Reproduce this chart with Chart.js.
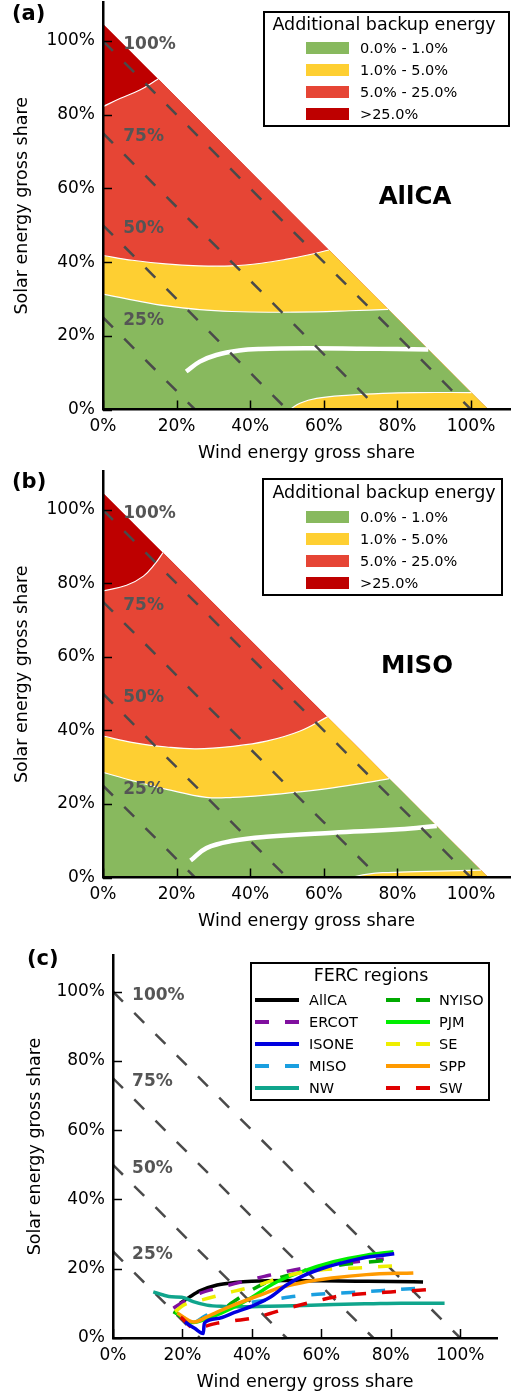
<!DOCTYPE html>
<html><head><meta charset="utf-8">
<script src="https://cdn.jsdelivr.net/npm/chart.js@4.4.1/dist/chart.umd.min.js"></script>
<style>
html,body{margin:0;padding:0;background:#fff;width:511px;height:1396px;overflow:hidden;}
canvas{position:absolute;left:0;display:block;}
</style></head><body>
<canvas id="ca" width="511" height="468" style="top:0;width:511px;height:468px"></canvas>
<canvas id="cb" width="511" height="468" style="top:468px;width:511px;height:468px"></canvas>
<canvas id="cc" width="511" height="460" style="top:936px;width:511px;height:460px"></canvas>
<script>
const F = 'DejaVu Sans';
const AXIS_MAX = 110.6;
const TICK_VALUES = [0, 20, 40, 60, 80, 100];
const TRI_EDGE = 104.7;
const DIAG_LEVELS = [25, 50, 75, 100];
const DIAG_TEXT = ['25%', '50%', '75%', '100%'];
const BAND_TEXT = ['0.0% - 1.0%', '1.0% - 5.0%', '5.0% - 25.0%', '>25.0%'];
const BAND_COLOR = ['#88b95e', '#fecf32', '#e64535', '#be0000'];

// Panel (a) AllCA: contour boundaries [wind %, solar %]
const A_DARKRED_EDGE = [[0,82.2],[4.6,84.4],[10,86.7],[15,89.7]];
const A_RED_EDGE = [[0,41.8],[8,40.5],[17,39.5],[26,39],[35,39],[43,39.7],[50,40.8],[56,42],[61.4,43.3]];
const A_YELLOW_EDGE = [[0,31.3],[8.2,29.7],[17.3,28.1],[26.3,27.1],[35,26.6],[45,26.4],[58,26.5],[67,26.8],[77.5,27.2]];
const A_LOWYELLOW_EDGE = [[50.8,0],[53.5,1.7],[58,3],[67,3.9],[76,4.4],[85,4.6],[100.1,4.6]];
const A_PATH = [[22.6,10.3],[26.3,13],[30.8,14.8],[37,16],[42.6,16.4],[55,16.6],[70,16.5],[80,16.4],[88.4,16.3]];

// Panel (b) MISO
const B_DARKRED_EDGE = [[0,78],[6.4,79.5],[11,82],[14.1,85.3],[16.3,88.4]];
const B_RED_EDGE = [[0,38.5],[8.2,36.7],[17.3,35.5],[25.4,35],[35.3,35.7],[44.4,37.1],[53.4,39.8],[61,43.7]];
const B_YELLOW_EDGE = [[0,28.6],[8.2,26.3],[17.3,24],[28.1,21.8],[35.3,21.8],[44.4,22.4],[53.4,23.3],[62.4,24.4],[71.5,25.8],[77.8,26.9]];
const B_LOWYELLOW_EDGE = [[67,0],[72,0.9],[76,1.3],[85,1.6],[102.7,2]];
const B_PATH = [[23.8,4.6],[28.1,8],[35.3,10],[44.4,11.1],[62.5,12.2],[80.6,13.1],[90.7,14]];

// Panel (c) FERC regions
const C_REGIONS = ['AllCA','ERCOT','ISONE','MISO','NW','NYISO','PJM','SE','SPP','SW'];
const C_COLORS = ['#000000','#80109f','#0000e0','#1a9fe0','#10a58c','#00aa00','#00ee00','#eeee00','#ff9a00','#e00000'];
const C_DASHED = [false,true,false,true,false,true,false,true,false,true];
const ALLCA_PTS = [[19.3,10],[22,11.8],[25,13.6],[30,15.3],[35,16],[40,16.4],[50,16.6],[60,16.5],[70,16.4],[80,16.3],[89.3,16.2]];
const ERCOT_PTS = [[17.4,8.6],[20.3,10.5],[25,12.9],[30,14.4],[35,15.7],[40,16.9],[45,18.1],[54,20],[62.5,21],[70,22],[78,22.8]];
const ISONE_PTS = [[20.7,4.6],[23.5,2.8],[26,1.3],[26.3,4.3],[30,5.6],[35,7.4],[40,9.2],[45,11.6],[50,15.3],[54,17.6],[60,20],[66,21.7],[73,23.3],[81,24.3]];
const MISO_PTS = [[23.8,4.6],[27,6.6],[30,7.8],[35,9.3],[40,10.3],[47,11.3],[55,12.3],[63.5,12.9],[73,13.4],[82,14],[90.5,14.5]];
const NW_PTS = [[11.6,13.3],[14.5,12.4],[16.9,11.9],[19.8,11.8],[23.1,10.5],[27,9.5],[32,9.1],[36,9],[45,9.2],[55,9.4],[63.5,9.7],[75,9.9],[83,10],[95.5,10]];
const NYISO_PTS = [[17.4,7.6],[22.2,5.2],[26,5.6],[30,7.2],[34.6,10.4],[38.5,13],[43,15.5],[47.2,17.2],[55,19.1],[63.5,20.8],[72,21.8],[80.8,22.6]];
const PJM_PTS = [[17.9,7.5],[23,4.5],[28,5.9],[34.7,8.8],[40.4,12],[46.2,15.7],[54,19],[63.5,22],[73,23.9],[80.8,24.9]];
const SE_PTS = [[17.9,7.6],[20.3,9.5],[25.6,11],[29,11.9],[34,13.3],[37,14],[42,15.3],[48,17.4],[55,19],[63,19.9],[72,20.3],[81.8,20.9]];
const SPP_PTS = [[18.5,7.2],[23.3,4.6],[27,6.1],[30,7.5],[34.7,9.5],[42.4,12.4],[48,14.5],[54,15.9],[63,17.3],[73,18.3],[86.5,18.8]];
const SW_PTS = [[19.5,6],[24,2.5],[27,3.5],[30,4.3],[35,5],[40,5.7],[45,7],[50,8.5],[55,9.8],[60,11],[65,12.1],[70,12.6],[80,13.3],[85,13.6],[91,14]];
const C_SERIES = [ALLCA_PTS, ERCOT_PTS, ISONE_PTS, MISO_PTS, NW_PTS, NYISO_PTS, PJM_PTS, SE_PTS, SPP_PTS, SW_PTS];

const toXY = arr => arr.map(p => ({x: p[0], y: p[1]}));
function hypTail(edge){
  const last = edge[edge.length-1];
  return [[last[0]+0.3, TRI_EDGE-last[0]-0.3],[TRI_EDGE,0]];
}
function layer(points, color, order){
  return {data: toXY(points), backgroundColor: color, borderColor: 'rgba(0,0,0,0)', borderWidth: 0,
    fill: 'origin', pointRadius: 0, tension: 0.4, order};
}
function smooth(points, color, width, order){
  return {data: toXY(points), borderColor: color, borderWidth: width, fill: false, pointRadius: 0,
    tension: 0.4, order, borderCapStyle: 'butt'};
}
function line(points, color, width, order, dash){
  return {data: toXY(points), borderColor: color, borderWidth: width, fill: false, pointRadius: 0,
    cubicInterpolationMode: 'monotone', order, borderDash: dash || [], borderCapStyle: 'butt'};
}
function diagSets(){
  return DIAG_LEVELS.map(k => ({data: [{x:0,y:k},{x:k,y:0}], borderColor: '#4a4a4a', borderWidth: 2.5,
    borderDash: [14,16], fill: false, pointRadius: 0, tension: 0, order: 5}));
}
function contourSets(dr, red, yel, low, path){
  return [
    layer([[0,TRI_EDGE],[TRI_EDGE,0]], BAND_COLOR[3], 100),
    layer(dr.concat(hypTail(dr)), BAND_COLOR[2], 99),
    layer(red.concat(hypTail(red)), BAND_COLOR[1], 98),
    layer(yel.concat(hypTail(yel)), BAND_COLOR[0], 97),
    layer(low.concat(hypTail(low)), BAND_COLOR[1], 96),
    smooth(dr, '#ffffff', 1.2, 20), smooth(red, '#ffffff', 1.2, 20), smooth(yel, '#ffffff', 1.2, 20), smooth(low, '#ffffff', 1.2, 20),
    smooth(path, '#ffffff', 4.5, 15)
  ].concat(diagSets());
}
function scales(yw, xh, yTitlePad, xTitlePad){
  const zero = s => { s.paddingLeft = 0; s.paddingRight = 0; s.paddingTop = 0; s.paddingBottom = 0; };
  const common = {type: 'linear', min: 0, max: AXIS_MAX,
    afterBuildTicks: s => { s.ticks = TICK_VALUES.map(v => ({value: v})); },
    grid: {display: false, drawTicks: false},
    border: {display: true, color: '#000', width: 2.5, z: 1}};
  return {
    x: Object.assign({}, common, {
      afterFit: s => { s.height = xh; zero(s); },
      ticks: {color: '#000', font: {family: F, size: 17}, padding: 7, maxRotation: 0, autoSkip: false, callback: v => v + '%'},
      title: {display: true, text: 'Wind energy gross share', color: '#000', font: {family: F, size: 17.5}, padding: {top: 0, bottom: xTitlePad}}
    }),
    y: Object.assign({}, common, {
      afterFit: s => { s.width = yw; zero(s); },
      ticks: {color: '#000', font: {family: F, size: 17}, padding: 8, autoSkip: false, callback: v => v + '%'},
      title: {display: true, text: 'Solar energy gross share', color: '#000', font: {family: F, size: 17.5}, padding: {top: yTitlePad, bottom: 0}}
    })
  };
}
function commonDecor(chart, ctx){
  const xs = chart.scales.x, ys = chart.scales.y, ca = chart.chartArea;
  ctx.strokeStyle = '#000'; ctx.lineWidth = 1.5; ctx.setLineDash([]);
  TICK_VALUES.forEach(v => {
    const px = Math.round(xs.getPixelForValue(v)) + 0.5;
    ctx.beginPath(); ctx.moveTo(px, ca.bottom); ctx.lineTo(px, ca.bottom - 9); ctx.stroke();
    const py = Math.round(ys.getPixelForValue(v)) + 0.5;
    ctx.beginPath(); ctx.moveTo(ca.left, py); ctx.lineTo(ca.left + 9, py); ctx.stroke();
  });
  ctx.fillStyle = '#555'; ctx.font = 'bold 17px "' + F + '"'; ctx.textBaseline = 'middle'; ctx.textAlign = 'left';
  DIAG_LEVELS.forEach((k, i) => ctx.fillText(DIAG_TEXT[i], xs.getPixelForValue(5.5), ys.getPixelForValue(k - 1)));
}
function bandLegend(ctx, box, titleY, rows){
  ctx.fillStyle = '#fff'; ctx.fillRect(box[0], box[1], box[2], box[3]);
  ctx.strokeStyle = '#000'; ctx.lineWidth = 2; ctx.strokeRect(box[0], box[1], box[2], box[3]);
  ctx.fillStyle = '#000'; ctx.font = '17.5px "' + F + '"'; ctx.textAlign = 'center'; ctx.textBaseline = 'middle';
  ctx.fillText('Additional backup energy', 384, titleY);
  BAND_TEXT.forEach((t, i) => {
    ctx.fillStyle = BAND_COLOR[i]; ctx.fillRect(306, rows[i] - 6, 43, 12);
    ctx.fillStyle = '#000'; ctx.font = '14.5px "' + F + '"'; ctx.textAlign = 'left';
    ctx.fillText(t, 360, rows[i] + 1);
  });
}
function contourPlugin(label, name, nameX, nameY, box, titleY, rows){
  return {id: 'decor', afterDraw(chart){
    const ctx = chart.ctx; ctx.save();
    commonDecor(chart, ctx);
    ctx.fillStyle = '#000'; ctx.textBaseline = 'middle';
    ctx.font = 'bold 21px "' + F + '"'; ctx.textAlign = 'left'; ctx.fillText(label, 12, 15);
    ctx.font = 'bold 24.5px "' + F + '"'; ctx.textAlign = 'center'; ctx.fillText(name, nameX, nameY);
    bandLegend(ctx, box, titleY, rows);
    ctx.restore();
  }};
}
const baseOpts = (sc, pad) => ({responsive: false, devicePixelRatio: 1, animation: false,
  layout: {padding: pad}, scales: sc, plugins: {legend: {display: false}, tooltip: {enabled: false}}});

new Chart(document.getElementById('ca'), {type: 'line',
  data: {datasets: contourSets(A_DARKRED_EDGE, A_RED_EDGE, A_YELLOW_EDGE, A_LOWYELLOW_EDGE, A_PATH)},
  options: baseOpts(scales(103, 58.5, 12, 4.5), {top: 2, right: 1, left: 0, bottom: 0}),
  plugins: [contourPlugin('(a)', 'AllCA', 415, 198, [264, 12, 245, 114], 25, [48, 70, 92, 114])]});

new Chart(document.getElementById('cb'), {type: 'line',
  data: {datasets: contourSets(B_DARKRED_EDGE, B_RED_EDGE, B_YELLOW_EDGE, B_LOWYELLOW_EDGE, B_PATH)},
  options: baseOpts(scales(103, 58.5, 12, 4.5), {top: 3, right: 1, left: 0, bottom: 0}),
  plugins: [contourPlugin('(b)', 'MISO', 417, 199, [263, 11, 239, 116], 25, [49, 71, 93, 115])]});

const cSets = C_SERIES.map((pts, i) => line(pts, C_COLORS[i], 3.5, i === 2 ? 1 : 12 - i, C_DASHED[i] ? [14, 16] : []));
new Chart(document.getElementById('cc'), {type: 'line',
  data: {datasets: cSets.concat(diagSets().map(d => Object.assign(d, {order: 30})))},
  options: baseOpts(scales(113, 58, 24.5, 3.5), {top: 19, right: 14, left: 0, bottom: 0}),
  plugins: [{id: 'decorC', afterDraw(chart){
    const ctx = chart.ctx; ctx.save();
    commonDecor(chart, ctx);
    ctx.fillStyle = '#000'; ctx.textBaseline = 'middle';
    ctx.font = 'bold 21px "' + F + '"'; ctx.textAlign = 'left'; ctx.fillText('(c)', 27, 24);
    ctx.fillStyle = '#fff'; ctx.fillRect(251, 27, 238, 137);
    ctx.strokeStyle = '#000'; ctx.lineWidth = 2; ctx.strokeRect(251, 27, 238, 137);
    ctx.fillStyle = '#000'; ctx.font = '17.5px "' + F + '"'; ctx.textAlign = 'center';
    ctx.fillText('FERC regions', 371, 40);
    C_REGIONS.forEach((r, i) => {
      const col = i < 5 ? 0 : 1, row = i % 5;
      const y = 64 + row * 22;
      const x0 = col ? 386 : 255, x1 = col ? 430 : 299, tx = col ? 439 : 309;
      ctx.strokeStyle = C_COLORS[i]; ctx.lineWidth = 4; ctx.lineCap = 'butt';
      ctx.setLineDash(C_DASHED[i] ? [14, 16] : []);
      ctx.beginPath(); ctx.moveTo(x0, y); ctx.lineTo(x1, y); ctx.stroke();
      ctx.setLineDash([]);
      ctx.fillStyle = '#000'; ctx.font = '14.5px "' + F + '"'; ctx.textAlign = 'left';
      ctx.fillText(r, tx, y + 1);
    });
    ctx.restore();
  }}]});
</script>
</body></html>
